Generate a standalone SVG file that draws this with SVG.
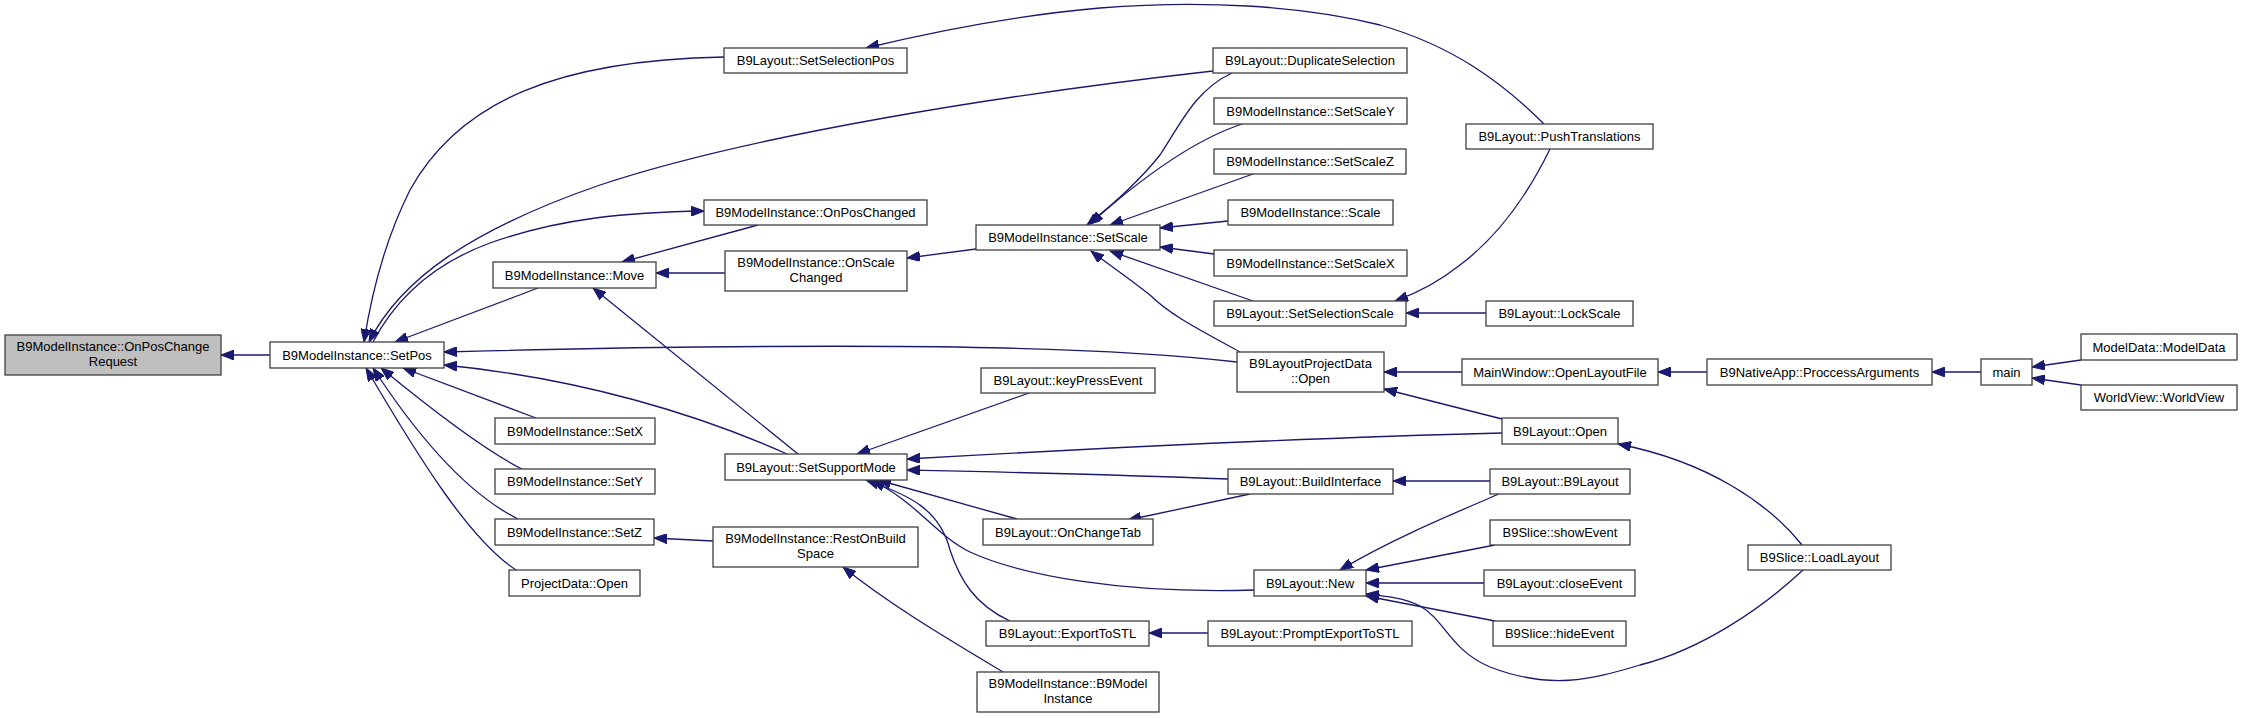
<svg xmlns="http://www.w3.org/2000/svg" width="2243" height="718" viewBox="0 0 2243 718">
<style>
.n rect{fill:#ffffff;stroke:#404040;stroke-width:1.3}
.g rect{fill:#bfbfbf;stroke:#404040;stroke-width:1.3}
text{font-family:"Liberation Sans",Arial,sans-serif;font-size:13px;fill:#000000;text-anchor:middle}
.e path{fill:none;stroke:#191970;stroke-width:1.3;marker-end:url(#a)}
</style>
<defs>
<marker id="a" markerWidth="14" markerHeight="10" refX="13" refY="5" orient="auto" markerUnits="userSpaceOnUse">
<path d="M0,0 L13,5 L0,10 z" fill="#191970" stroke="#191970" stroke-width="1"/>
</marker>
</defs>
<rect width="2243" height="718" fill="#ffffff"/>
<g class="e" id="edges">
<path d="M270,355 L221,355"/>
<path d="M724,57 C560,60 460,100 410,190 C385,240 372,290 364,342"/>
<path d="M1213,71 C1000,95 750,135 600,185 C470,230 400,280 369,342"/>
<path d="M373,342 C395,300 430,265 490,243 C560,218 630,212 704,211"/>
<path d="M758,225 L622,262"/>
<path d="M538,288 L395,342"/>
<path d="M725,273 L656,273"/>
<path d="M976,249 L907,258"/>
<path d="M1232,73 C1195,90 1180,125 1160,155 C1140,180 1115,203 1087,225"/>
<path d="M1242,124 C1200,138 1150,170 1090,224"/>
<path d="M1253,174 L1110,225"/>
<path d="M1228,221 L1160,228"/>
<path d="M1214,254 L1160,247"/>
<path d="M1253,301 L1110,251"/>
<path d="M1240,352 C1200,330 1170,315 1150,295 C1125,275 1105,262 1091,251"/>
<path d="M1544,124 C1500,80 1450,45 1380,25 C1300,5 1200,0 1100,8 C1020,15 940,30 866,48"/>
<path d="M1550,149 C1530,190 1500,235 1460,265 C1440,281 1420,292 1395,301"/>
<path d="M1486,313 L1406,313"/>
<path d="M1237,362 C1100,346 900,345 700,347 C600,348 520,350 444,352"/>
<path d="M1462,372 L1384,372"/>
<path d="M1707,372 L1658,372"/>
<path d="M1981,372 L1932,372"/>
<path d="M2081,360 L2032,367"/>
<path d="M2081,385 L2032,378"/>
<path d="M1502,419 L1384,389"/>
<path d="M1502,433 C1300,438 1100,448 907,459"/>
<path d="M1802,545 C1770,505 1710,462 1618,444"/>
<path d="M1029,393 L857,454"/>
<path d="M1228,479 C1100,474 1000,472 907,470"/>
<path d="M1017,519 L878,480"/>
<path d="M1250,494 L1128,520"/>
<path d="M1254,590 C1120,594 1020,575 970,552 C935,535 915,500 872,481"/>
<path d="M1010,621 C975,605 960,580 950,550 C940,510 910,495 866,480"/>
<path d="M1208,633 L1149,633"/>
<path d="M1490,481 L1393,481"/>
<path d="M1499,494 C1450,515 1390,540 1340,570"/>
<path d="M1495,545 L1366,570"/>
<path d="M1484,583 L1366,583"/>
<path d="M1495,621 L1366,596"/>
<path d="M1803,570 C1760,610 1700,650 1640,665 C1590,680 1550,690 1490,667 C1450,650 1445,620 1420,606 C1405,598 1385,596 1366,594"/>
<path d="M536,418 L403,368"/>
<path d="M522,469 C480,448 420,400 381,368"/>
<path d="M518,519 C470,495 420,440 373,368"/>
<path d="M516,570 C470,540 420,460 366,368"/>
<path d="M787,454 C700,415 580,378 444,365"/>
<path d="M798,454 L593,288"/>
<path d="M713,541 L654,538"/>
<path d="M1003,672 C950,640 890,605 843,567"/>
</g>
<g id="n0" class="g"><rect x="5" y="335" width="216" height="40"/><text x="113" y="351">B9ModelInstance::OnPosChange</text><text x="113" y="366">Request</text></g>
<g id="n1" class="n"><rect x="270" y="342" width="174" height="26"/><text x="357" y="359.5">B9ModelInstance::SetPos</text></g>
<g id="n2" class="n"><rect x="724" y="48" width="183" height="25"/><text x="815.5" y="65">B9Layout::SetSelectionPos</text></g>
<g id="n3" class="n"><rect x="1213" y="48" width="194" height="25"/><text x="1310" y="65">B9Layout::DuplicateSelection</text></g>
<g id="n4" class="n"><rect x="704" y="200" width="223" height="25"/><text x="815.5" y="217">B9ModelInstance::OnPosChanged</text></g>
<g id="n5" class="n"><rect x="493" y="262" width="163" height="26"/><text x="574.5" y="279.5">B9ModelInstance::Move</text></g>
<g id="n6" class="n"><rect x="725" y="251" width="182" height="40"/><text x="816" y="267">B9ModelInstance::OnScale</text><text x="816" y="282">Changed</text></g>
<g id="n7" class="n"><rect x="976" y="225" width="184" height="25"/><text x="1068" y="242">B9ModelInstance::SetScale</text></g>
<g id="n8" class="n"><rect x="1214" y="98" width="193" height="26"/><text x="1310.5" y="115.5">B9ModelInstance::SetScaleY</text></g>
<g id="n9" class="n"><rect x="1214" y="149" width="192" height="25"/><text x="1310" y="166">B9ModelInstance::SetScaleZ</text></g>
<g id="n10" class="n"><rect x="1228" y="200" width="165" height="25"/><text x="1310.5" y="217">B9ModelInstance::Scale</text></g>
<g id="n11" class="n"><rect x="1214" y="250" width="193" height="26"/><text x="1310.5" y="267.5">B9ModelInstance::SetScaleX</text></g>
<g id="n12" class="n"><rect x="1214" y="301" width="192" height="25"/><text x="1310" y="318">B9Layout::SetSelectionScale</text></g>
<g id="n13" class="n"><rect x="1466" y="124" width="187" height="25"/><text x="1559.5" y="141">B9Layout::PushTranslations</text></g>
<g id="n14" class="n"><rect x="1486" y="301" width="147" height="25"/><text x="1559.5" y="318">B9Layout::LockScale</text></g>
<g id="n15" class="n"><rect x="1237" y="352" width="147" height="40"/><text x="1310.5" y="368">B9LayoutProjectData</text><text x="1310.5" y="383">::Open</text></g>
<g id="n16" class="n"><rect x="1462" y="359" width="196" height="26"/><text x="1560" y="376.5">MainWindow::OpenLayoutFile</text></g>
<g id="n17" class="n"><rect x="1707" y="359" width="225" height="26"/><text x="1819.5" y="376.5">B9NativeApp::ProccessArguments</text></g>
<g id="n18" class="n"><rect x="1981" y="359" width="51" height="26"/><text x="2006.5" y="376.5">main</text></g>
<g id="n19" class="n"><rect x="2081" y="334" width="156" height="26"/><text x="2159" y="351.5">ModelData::ModelData</text></g>
<g id="n20" class="n"><rect x="2081" y="385" width="156" height="25"/><text x="2159" y="402">WorldView::WorldView</text></g>
<g id="n21" class="n"><rect x="1502" y="418" width="116" height="26"/><text x="1560" y="435.5">B9Layout::Open</text></g>
<g id="n22" class="n"><rect x="981" y="368" width="174" height="25"/><text x="1068" y="385">B9Layout::keyPressEvent</text></g>
<g id="n23" class="n"><rect x="725" y="454" width="182" height="26"/><text x="816" y="471.5">B9Layout::SetSupportMode</text></g>
<g id="n24" class="n"><rect x="1228" y="469" width="165" height="25"/><text x="1310.5" y="486">B9Layout::BuildInterface</text></g>
<g id="n25" class="n"><rect x="1490" y="469" width="140" height="25"/><text x="1560" y="486">B9Layout::B9Layout</text></g>
<g id="n26" class="n"><rect x="1490" y="520" width="140" height="25"/><text x="1560" y="537">B9Slice::showEvent</text></g>
<g id="n27" class="n"><rect x="983" y="519" width="170" height="26"/><text x="1068" y="536.5">B9Layout::OnChangeTab</text></g>
<g id="n28" class="n"><rect x="713" y="527" width="205" height="40"/><text x="815.5" y="543">B9ModelInstance::RestOnBuild</text><text x="815.5" y="558">Space</text></g>
<g id="n29" class="n"><rect x="1254" y="570" width="112" height="26"/><text x="1310" y="587.5">B9Layout::New</text></g>
<g id="n30" class="n"><rect x="1484" y="570" width="151" height="26"/><text x="1559.5" y="587.5">B9Layout::closeEvent</text></g>
<g id="n31" class="n"><rect x="1493" y="621" width="133" height="25"/><text x="1559.5" y="638">B9Slice::hideEvent</text></g>
<g id="n32" class="n"><rect x="1748" y="545" width="143" height="25"/><text x="1819.5" y="562">B9Slice::LoadLayout</text></g>
<g id="n33" class="n"><rect x="986" y="621" width="163" height="25"/><text x="1067.5" y="638">B9Layout::ExportToSTL</text></g>
<g id="n34" class="n"><rect x="1208" y="621" width="204" height="25"/><text x="1310" y="638">B9Layout::PromptExportToSTL</text></g>
<g id="n35" class="n"><rect x="977" y="672" width="182" height="40"/><text x="1068" y="688">B9ModelInstance::B9Model</text><text x="1068" y="703">Instance</text></g>
<g id="n36" class="n"><rect x="495" y="418" width="160" height="26"/><text x="575" y="435.5">B9ModelInstance::SetX</text></g>
<g id="n37" class="n"><rect x="495" y="469" width="160" height="25"/><text x="575" y="486">B9ModelInstance::SetY</text></g>
<g id="n38" class="n"><rect x="495" y="519" width="159" height="26"/><text x="574.5" y="536.5">B9ModelInstance::SetZ</text></g>
<g id="n39" class="n"><rect x="509" y="570" width="131" height="26"/><text x="574.5" y="587.5">ProjectData::Open</text></g>
</svg>
